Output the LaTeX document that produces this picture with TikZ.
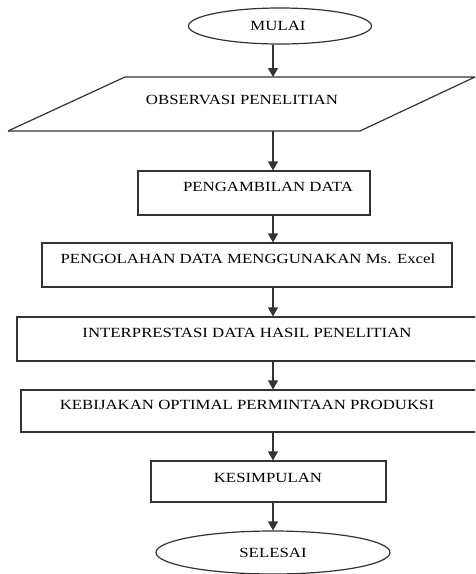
\documentclass[tikz,border=0pt]{standalone}
\usepackage{fontspec}
\setmainfont{Liberation Serif}[FakeStretch=1.2]
\usetikzlibrary{shapes.geometric,arrows.meta}
\begin{document}
\begin{tikzpicture}[x=1pt,y=1pt,
  line/.style={draw=black!80,line width=1.2pt},
  box/.style={line,rectangle,inner sep=0pt},
  oval/.style={line,ellipse,inner sep=0pt},
  lbl/.style={inner sep=0pt,font=\fontsize{14}{16}\selectfont},
  flow/.style={draw=black!80,line width=1.2pt,-{Triangle[length=9pt,width=10pt]}}]
\clip (0,0) rectangle (475,-574);
\fill[white] (0,0) rectangle (475,-574);
\coordinate (ax) at (273,0);
% start
\node[oval,minimum width=183,minimum height=36] (mulai) at (280,-26) {};
\node[lbl] (tmulai) at (278,-26) {MULAI};
% parallelogram
\coordinate (p1) at (125,-77);
\coordinate (p2) at (490,-77);
\coordinate (p3) at (360,-131);
\coordinate (p4) at (8,-131);
\draw[line] (p1) -- (475,-77) (p4) -- (p3) -- (475,-77);
\draw[line] (p1) -- (p4);
\coordinate (obsT) at (273,-77);
\coordinate (obsB) at (273,-131);
\node[lbl] (tobs) at (242,-100) {OBSERVASI PENELITIAN};
% boxes
\node[box,minimum width=232,minimum height=44] (b1) at (254,-193) {};
\node[lbl] (tb1) at (268,-187) {PENGAMBILAN DATA};
\node[box,minimum width=410,minimum height=44] (b2) at (247,-265) {};
\node[lbl] (tb2) at (248,-259) {PENGOLAHAN DATA MENGGUNAKAN Ms. Excel};
\node[box,minimum width=473,minimum height=44] (b3) at (253.5,-339) {};
\node[lbl] (tb3) at (247,-333) {INTERPRESTASI DATA HASIL PENELITIAN};
\node[box,minimum width=469,minimum height=42] (b4) at (255.5,-411) {};
\node[lbl] (tb4) at (247,-405) {KEBIJAKAN OPTIMAL PERMINTAAN PRODUKSI};
\node[box,minimum width=235,minimum height=41] (b5) at (268.5,-481.5) {};
\node[lbl] (tb5) at (268,-478) {KESIMPULAN};
% end
\node[oval,minimum width=234,minimum height=43] (selesai) at (273,-552.5) {};
\node[lbl] (tsel) at (273,-553) {SELESAI};
% arrows
\draw[flow] (mulai.south -| ax) -- (obsT);
\draw[flow] (obsB) -- (b1.north -| ax);
\draw[flow] (b1.south -| ax) -- (b2.north -| ax);
\draw[flow] (b2.south -| ax) -- (b3.north -| ax);
\draw[flow] (b3.south -| ax) -- (b4.north -| ax);
\draw[flow] (b4.south -| ax) -- (b5.north -| ax);
\draw[flow] (b5.south -| ax) -- (selesai.north -| ax);
\end{tikzpicture}
\end{document}
